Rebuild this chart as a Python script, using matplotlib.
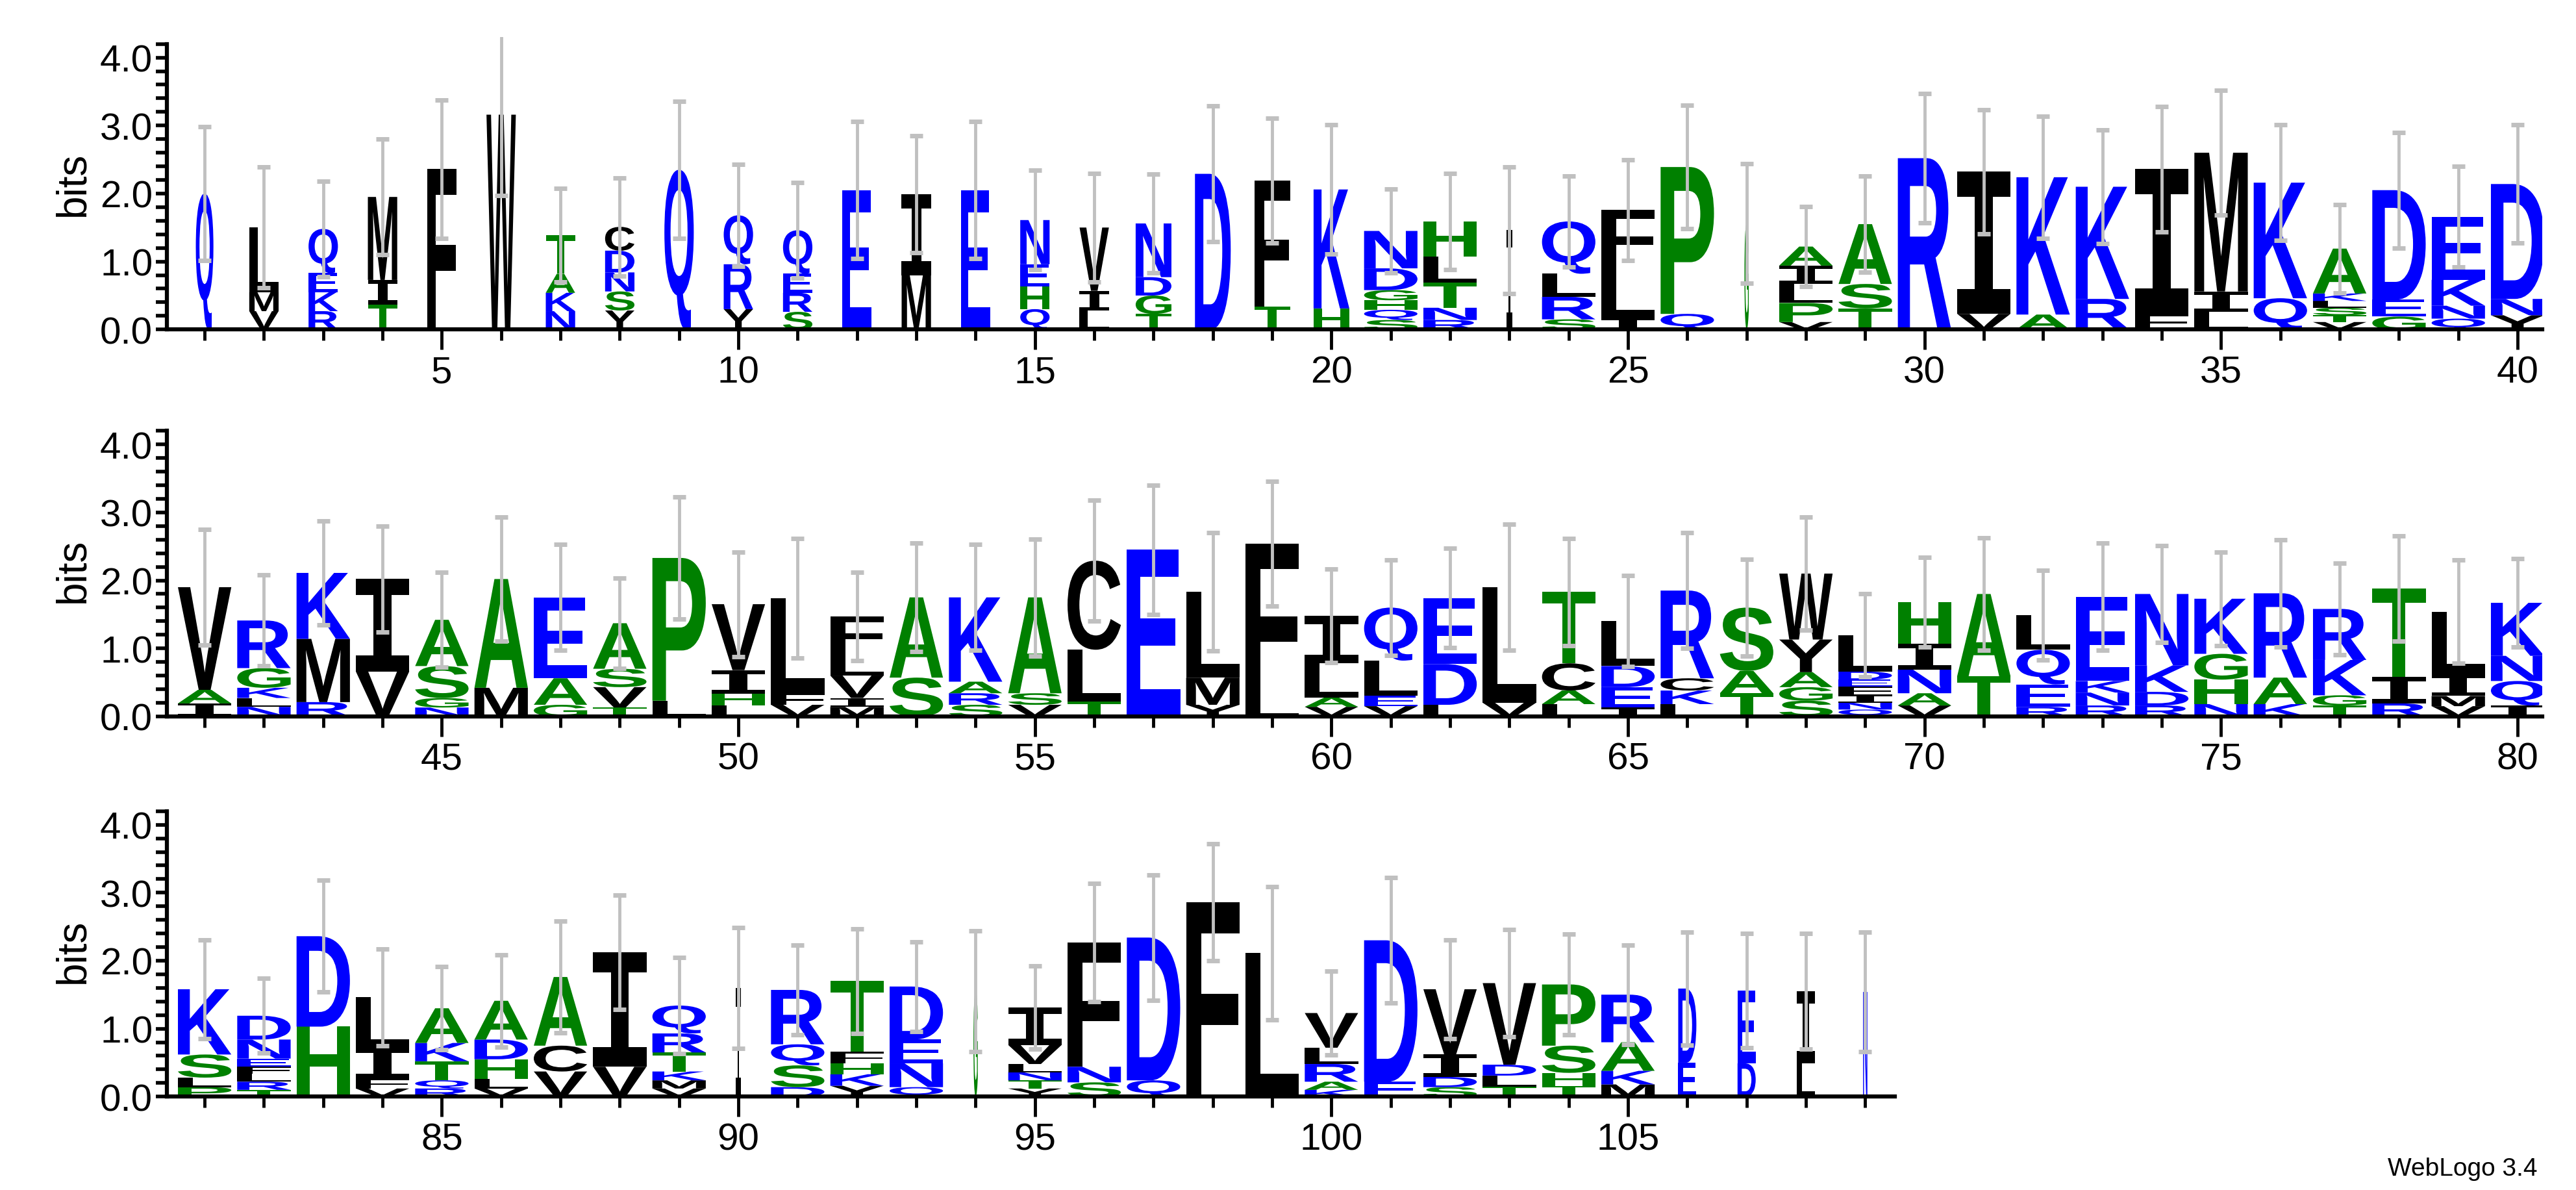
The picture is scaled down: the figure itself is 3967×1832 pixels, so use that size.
import numpy as np
import matplotlib
matplotlib.use("Agg")
import matplotlib.pyplot as plt
from matplotlib.textpath import TextPath
from matplotlib.font_manager import FontProperties
from matplotlib.patches import PathPatch
from matplotlib.path import Path
from matplotlib.transforms import Affine2D

plt.rcParams["font.family"] = ["Liberation Sans", "DejaVu Sans"]

# stacks listed bottom -> top as (letter, bits)
STACKS_1 = [
    [("Q", 2.0)],
    [("V", .27), ("M", .28), ("L", .95)],
    [("R", .27), ("K", .28), ("E", .28), ("Q", .65)],
    [("T", .37), ("I", .36), ("M", 1.22)],
    [("F", 2.36)],
    [("W", 3.16)],
    [("N", .27), ("K", .27), ("A", .28), ("T", .57)],
    [("Y", .28), ("S", .28), ("N", .28), ("D", .32), ("C", .35)],
    [("Q", 2.35)],
    [("Y", .3), ("R", .66), ("Q", .72)],
    [("S", .26), ("R", .28), ("E", .28), ("Q", .64)],
    [("E", 2.05)],
    [("M", .8), ("I", 1.19)],
    [("E", 2.05)],
    [("Q", .3), ("H", .33), ("E", .33), ("N", .65)],
    [("L", .28), ("I", .29), ("V", .93)],
    [("T", .23), ("G", .27), ("D", .27), ("N", .79)],
    [("D", 2.29)],
    [("T", .34), ("F", 1.85)],
    [("H", .31), ("K", 1.75)],
    [("S", .14), ("Q", .15), ("H", .14), ("G", .15), ("D", .32), ("N", .55)],
    [("R", .14), ("N", .18), ("T", .37), ("L", .38), ("H", .52)],
    [("I", 1.46)],
    [("S", .15), ("R", .33), ("L", .34), ("Q", .77)],
    [("I", .16), ("L", .78), ("F", .82)],
    [("Q", .23), ("P", 2.16)],
    [("G", 1.56)],
    [("V", .11), ("P", .28), ("L", .28), ("I", .27), ("A", .28)],
    [("T", .31), ("S", .36), ("A", .88)],
    [("R", 2.52)],
    [("V", .23), ("I", 2.09)],
    [("A", .22), ("K", 2.02)],
    [("R", .45), ("K", 1.65)],
    [("F", .23), ("I", 2.13)],
    [("L", .26), ("I", .3), ("M", 2.04)],
    [("Q", .46), ("K", 1.7)],
    [("V", .11), ("T", .1), ("S", .11), ("L", .1), ("K", .11), ("A", .66)],
    [("G", .19), ("E", .25), ("D", 1.61)],
    [("Q", .16), ("N", .19), ("K", .38), ("E", .93)],
    [("Y", .21), ("N", .24), ("D", 1.69)],
]
ERR_1 = [.98, .89, .7, .85, 1.02, 1.19, .69, .72, 1.01, .75,
         .7, 1.01, .86, 1.01, .73, .8, .73, 1.0, .92, .95,
         .62, .71, .93, .67, .74, .91, .88, .59, .71, .95,
         .91, .9, .84, .92, .92, .85, .65, .85, .74, .87]

STACKS_2 = [
    [("I", .19), ("A", .2), ("V", 1.51)],
    [("N", .14), ("L", .13), ("K", .15), ("G", .29), ("R", .7)],
    [("R", .21), ("M", .93), ("K", .97)],
    [("V", .66), ("I", 1.36)],
    [("N", .13), ("G", .14), ("S", .47), ("A", .68)],
    [("M", .42), ("A", 1.6)],
    [("G", .17), ("A", .39), ("E", 1.19)],
    [("T", .13), ("V", .3), ("S", .27), ("A", .67)],
    [("L", .23), ("P", 2.1)],
    [("L", .16), ("H", .17), ("I", .35), ("V", .97)],
    [("V", .17), ("F", .17), ("L", 1.4)],
    [("M", .14), ("I", .13), ("V", .33), ("L", .34), ("F", .53)],
    [("S", .57), ("A", 1.18)],
    [("S", .17), ("R", .17), ("A", .17), ("K", 1.24)],
    [("V", .17), ("S", .17), ("A", 1.41)],
    [("T", .22), ("L", .76), ("C", 1.31)],
    [("E", 2.45)],
    [("Y", .17), ("M", .4), ("L", 1.26)],
    [("L", .26), ("F", 2.28)],
    [("V", .14), ("A", .14), ("L", .5), ("I", .7)],
    [("V", .15), ("E", .15), ("L", .52), ("Q", .78)],
    [("L", .17), ("D", .6), ("E", .97)],
    [("V", .2), ("L", 1.7)],
    [("L", .18), ("A", .2), ("C", .4), ("T", 1.05)],
    [("I", .13), ("E", .3), ("D", .31), ("L", .66)],
    [("L", .18), ("K", .2), ("C", .18), ("R", 1.29)],
    [("T", .34), ("A", .33), ("S", .93)],
    [("S", .23), ("G", .2), ("A", .22), ("Y", .48), ("W", .97)],
    [("Q", .1), ("N", .1), ("I", .12), ("F", .12), ("E", .1), ("D", .12), ("L", .53)],
    [("V", .16), ("A", .18), ("N", .35), ("I", .38), ("H", .61)],
    [("T", .59), ("A", 1.21)],
    [("R", .14), ("E", .33), ("Q", .51), ("L", .51)],
    [("R", .16), ("N", .19), ("K", .17), ("E", 1.24)],
    [("R", .16), ("D", .2), ("K", .39), ("N", 1.05)],
    [("N", .18), ("H", .36), ("G", .38), ("K", .81)],
    [("K", .18), ("A", .39), ("R", 1.24)],
    [("T", .16), ("G", .15), ("K", .52), ("R", .75)],
    [("R", .19), ("I", .39), ("T", 1.3)],
    [("V", .15), ("M", .15), ("I", .32), ("L", .92)],
    [("I", .16), ("Q", .36), ("N", .37), ("K", .78)],
]
ERR_2 = [.85, .67, .76, .78, .7, .91, .78, .66, .9, .77,
         .88, .65, .8, .78, .86, .89, .95, .87, .92, .69,
         .7, .73, .93, .79, .67, .85, .71, .83, .61, .66,
         .83, .66, .79, .71, .69, .79, .67, .77, .76, .65]

STACKS_3 = [
    [("P", .14), ("L", .14), ("S", .34), ("K", .96)],
    [("T", .1), ("R", .12), ("L", .12), ("F", .1), ("E", .12), ("N", .28), ("D", .35)],
    [("H", 1.03), ("D", 1.33)],
    [("V", .12), ("F", .14), ("I", .46), ("L", .74)],
    [("R", .12), ("Q", .12), ("T", .28), ("K", .27), ("A", .51)],
    [("V", .12), ("L", .14), ("H", .29), ("D", .29), ("A", .57)],
    [("V", .37), ("C", .38), ("A", 1.01)],
    [("V", .44), ("I", 1.68)],
    [("V", .12), ("M", .12), ("K", .13), ("T", .28), ("R", .28), ("Q", .41)],
    [("I", 1.6)],
    [("D", .14), ("S", .32), ("Q", .31), ("R", .8)],
    [("Y", .16), ("K", .17), ("H", .16), ("F", .17), ("T", 1.04)],
    [("Q", .14), ("N", .35), ("E", .35), ("D", .78)],
    [("G", 1.55)],
    [("Y", .12), ("T", .12), ("N", .12), ("L", .12), ("V", .28), ("I", .55)],
    [("S", .21), ("N", .23), ("F", 1.83)],
    [("Q", .24), ("D", 2.1)],
    [("F", 2.86)],
    [("L", 2.11)],
    [("K", .1), ("A", .12), ("R", .26), ("L", .24), ("V", .51)],
    [("E", .22), ("D", 2.08)],
    [("S", .14), ("D", .15), ("I", .33), ("V", .96)],
    [("T", .15), ("L", .16), ("D", .16), ("V", 1.2)],
    [("T", .16), ("H", .19), ("S", .4), ("P", .9)],
    [("M", .18), ("K", .2), ("A", .42), ("R", .7)],
    [("E", .5), ("D", 1.09)],
    [("D", .49), ("E", 1.07)],
    [("L", .49), ("I", 1.06)],
    [("N", 1.54)],
]
ERR_3 = [.73, .55, .82, .71, .61, .68, .82, .84, .71, .89,
         .66, .77, .66, .89, .61, .87, .92, .86, .98, .62,
         .92, .73, .79, .74, .73, .83, .84, .85, .88]

# relative stack width (occupancy), 1.0 = full column
NARROW = {1: .33, 23: .1, 27: .08, 90: .09, 94: .08, 106: .34, 107: .34, 108: .34, 109: .08}
for p in range(2, 17):
    NARROW[p] = .55
for p in range(17, 21):
    NARROW[p] = .67

BLUE, GREEN, BLACK = "#0000ff", "#008000", "#000000"
COLORS = {}
for c in "QEKRDN":
    COLORS[c] = BLUE
for c in "TASGPH":
    COLORS[c] = GREEN
for c in "LMVIFWCY":
    COLORS[c] = BLACK

FP_SANS = FontProperties(family="Liberation Sans", weight="bold")
FP_MONO = FontProperties(family="DejaVu Sans Mono", weight="bold")


def draw_letter(ax, ch, x, y0, w, h):
    fp = FP_MONO if ch == "I" else FP_SANS
    path = TextPath((0, 0), ch, size=1, prop=fp)
    # closepoly vertices carry dummy coordinates, leave them out of the bbox
    v = path.vertices[path.codes != Path.CLOSEPOLY]
    xmin, ymin = v.min(axis=0)
    xmax, ymax = v.max(axis=0)
    tr = (Affine2D().translate(-xmin, -ymin)
          .scale(w / (xmax - xmin), h / (ymax - ymin))
          .translate(x - w / 2, y0))
    ax.add_patch(PathPatch(tr.transform_path(path), facecolor=COLORS[ch],
                           edgecolor="none", lw=0))


fig = plt.figure(figsize=(39.67, 18.33), dpi=100)

rows = [(1, STACKS_1, ERR_1, 0.7227, 40.42),
        (41, STACKS_2, ERR_2, 0.3978, 80.42),
        (81, STACKS_3, ERR_3, 0.0784, 109.5)]
YMAX = 4.3
for start, stacks, errs, bottom, xend in rows:
    ax = fig.add_axes([0.0647, bottom, 0.9223, YMAX * 0.0571])
    x0 = start - 0.64
    ax.set_xlim(x0, x0 + 40.06)
    ax.set_ylim(0, YMAX)
    for i, stack in enumerate(stacks):
        pos = start + i
        w = 0.9 * NARROW.get(pos, 1.0)
        y = 0.0
        for ch, h in stack:
            draw_letter(ax, ch, pos, y, w, h)
            y += h
        e = errs[i]
        ax.vlines(pos, y - e, y + e, color="#c0c0c0", lw=3.5, zorder=3)
        ax.hlines([y - e, y + e], pos - 0.11, pos + 0.11, color="#c0c0c0", lw=5, zorder=3)

    for s in ("top", "right"):
        ax.spines[s].set_visible(False)
    ax.spines["left"].set_bounds(0, 4.2)
    ax.spines["bottom"].set_bounds(x0, xend)
    for s in ("left", "bottom"):
        ax.spines[s].set_linewidth(4.5)

    ax.set_yticks([0, 1, 2, 3, 4])
    ax.set_yticklabels(["0.0", "1.0", "2.0", "3.0", "4.0"])
    ax.set_yticks(np.arange(0, 4.21, 0.2), minor=True)
    last = start + len(stacks) - 1
    major = [p for p in range(start, last + 1) if p % 5 == 0]
    ax.set_xticks(major)
    ax.set_xticklabels([str(p) for p in major])
    ax.set_xticks(list(range(start, last + 1)), minor=True)
    ax.tick_params(axis="y", which="both", direction="out", length=12, width=4, labelsize=42)
    ax.tick_params(axis="x", which="major", direction="out", length=22, width=3.5, labelsize=42, pad=6)
    ax.tick_params(axis="x", which="minor", direction="out", length=12, width=3.5)
    ax.set_ylabel("bits", fontsize=46, labelpad=8)

fig.text(0.985, 0.008, "WebLogo 3.4", ha="right", va="bottom", fontsize=28)
fig.savefig("out.png", dpi=100)
